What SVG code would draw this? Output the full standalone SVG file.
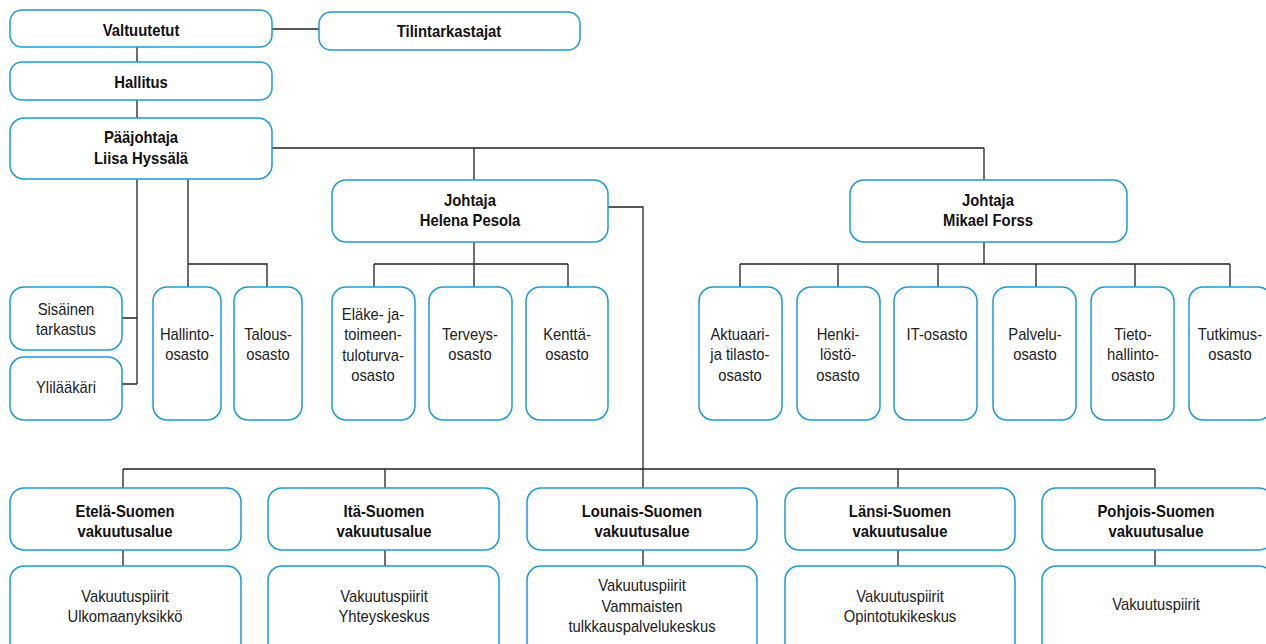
<svg xmlns="http://www.w3.org/2000/svg" width="1266" height="644" viewBox="0 0 1266 644">
<style>
.b{fill:#fff;stroke:#1e9ad6;stroke-width:1.5}
.c{fill:none;stroke:#222;stroke-width:1.3}
text{font-family:"Liberation Sans",Arial,sans-serif;font-size:17px;fill:#222;text-anchor:middle;transform-box:fill-box;transform-origin:center;transform:scaleX(.87)}
text.h{font-weight:bold;font-size:16.5px;fill:#111;transform:scaleX(.9)}
</style>
<rect width="1266" height="644" fill="#fff"/>
<g id="connectors">
<path class="c" d="M272 29H319"/>
<path class="c" d="M137 47V62M137 100V118"/>
<path class="c" d="M272 148H984M474 148V180M984 148V180"/>
<path class="c" d="M137 179V384M122 318H137M122 384H137"/>
<path class="c" d="M188 179V287M188 264H267V287"/>
<path class="c" d="M474 242V264M374 264H568M374 264V287M474 264V287M568 264V287"/>
<path class="c" d="M608 207H643V469M123 469H1155M123 469V488M385 469V488M643 469V488M898 469V488M1155 469V488"/>
<path class="c" d="M984 242V264M740 264H1230M740 264V287M838 264V287M938 264V287M1036 264V287M1135 264V287M1230 264V287"/>
<path class="c" d="M123 550V566M385 550V566M643 550V566M898 550V566M1155 550V566"/>
</g>
<g id="valtuutetut"><rect class="b" x="10" y="10" width="262" height="37" rx="12"/><text class="h" x="141" y="36">Valtuutetut</text></g>
<g id="tilintarkastajat"><rect class="b" x="319" y="12" width="261" height="38" rx="12"/><text class="h" x="449" y="37">Tilintarkastajat</text></g>
<g id="hallitus"><rect class="b" x="10" y="62" width="262" height="38" rx="12"/><text class="h" x="141" y="88">Hallitus</text></g>
<g id="paajohtaja"><rect class="b" x="10" y="118" width="262" height="61" rx="14"/><text class="h" x="141" y="143">Pääjohtaja</text><text class="h" x="141" y="164">Liisa Hyssälä</text></g>
<g id="helena"><rect class="b" x="332" y="180" width="276" height="62" rx="14"/><text class="h" x="470" y="206">Johtaja</text><text class="h" x="470" y="226">Helena Pesola</text></g>
<g id="mikael"><rect class="b" x="850" y="180" width="277" height="62" rx="14"/><text class="h" x="988" y="206">Johtaja</text><text class="h" x="988" y="226">Mikael Forss</text></g>
<g id="sisainen"><rect class="b" x="10" y="287" width="112" height="63" rx="14"/><text x="66" y="315">Sisäinen</text><text x="66" y="335">tarkastus</text></g>
<g id="ylilaakari"><rect class="b" x="10" y="357" width="112" height="63" rx="14"/><text x="66" y="393">Ylilääkäri</text></g>
<g id="hallinto"><rect class="b" x="153" y="287" width="68" height="133" rx="14"/><text x="187" y="340">Hallinto-</text><text x="187" y="360">osasto</text></g>
<g id="talous"><rect class="b" x="234" y="287" width="68" height="133" rx="14"/><text x="268" y="340">Talous-</text><text x="268" y="360">osasto</text></g>
<g id="elake"><rect class="b" x="332" y="287" width="83" height="133" rx="14"/><text x="373" y="320">Eläke- ja-</text><text x="373" y="340">toimeen-</text><text x="373" y="361">tuloturva-</text><text x="373" y="381">osasto</text></g>
<g id="terveys"><rect class="b" x="429" y="287" width="83" height="133" rx="14"/><text x="470" y="340">Terveys-</text><text x="470" y="360">osasto</text></g>
<g id="kentta"><rect class="b" x="526" y="287" width="82" height="133" rx="14"/><text x="567" y="340">Kenttä-</text><text x="567" y="360">osasto</text></g>
<g id="aktuaari"><rect class="b" x="699" y="287" width="83" height="133" rx="14"/><text x="740" y="340">Aktuaari-</text><text x="740" y="360">ja tilasto-</text><text x="740" y="381">osasto</text></g>
<g id="henki"><rect class="b" x="797" y="287" width="83" height="133" rx="14"/><text x="838" y="340">Henki-</text><text x="838" y="360">löstö-</text><text x="838" y="381">osasto</text></g>
<g id="it"><rect class="b" x="894" y="287" width="83" height="133" rx="14"/><text x="937" y="340">IT-osasto</text></g>
<g id="palvelu"><rect class="b" x="993" y="287" width="83" height="133" rx="14"/><text x="1035" y="340">Palvelu-</text><text x="1035" y="360">osasto</text></g>
<g id="tieto"><rect class="b" x="1091" y="287" width="83" height="133" rx="14"/><text x="1133" y="340">Tieto-</text><text x="1133" y="360">hallinto-</text><text x="1133" y="381">osasto</text></g>
<g id="tutkimus"><rect class="b" x="1189" y="287" width="83" height="133" rx="14"/><text x="1230" y="340">Tutkimus-</text><text x="1230" y="360">osasto</text></g>
<g id="etela"><rect class="b" x="10" y="488" width="231" height="62" rx="14"/><text class="h" x="125" y="517">Etelä-Suomen</text><text class="h" x="125" y="537">vakuutusalue</text></g>
<g id="ita"><rect class="b" x="268" y="488" width="231" height="62" rx="14"/><text class="h" x="384" y="517">Itä-Suomen</text><text class="h" x="384" y="537">vakuutusalue</text></g>
<g id="lounais"><rect class="b" x="527" y="488" width="230" height="62" rx="14"/><text class="h" x="642" y="517">Lounais-Suomen</text><text class="h" x="642" y="537">vakuutusalue</text></g>
<g id="lansi"><rect class="b" x="785" y="488" width="230" height="62" rx="14"/><text class="h" x="900" y="517">Länsi-Suomen</text><text class="h" x="900" y="537">vakuutusalue</text></g>
<g id="pohjois"><rect class="b" x="1042" y="488" width="231" height="62" rx="14"/><text class="h" x="1156" y="517">Pohjois-Suomen</text><text class="h" x="1156" y="537">vakuutusalue</text></g>
<g id="etela-yks"><rect class="b" x="10" y="566" width="231" height="100" rx="14"/><text x="125" y="602">Vakuutuspiirit</text><text x="125" y="622">Ulkomaanyksikkö</text></g>
<g id="ita-yks"><rect class="b" x="268" y="566" width="231" height="100" rx="14"/><text x="384" y="602">Vakuutuspiirit</text><text x="384" y="622">Yhteyskeskus</text></g>
<g id="lounais-yks"><rect class="b" x="527" y="566" width="230" height="100" rx="14"/><text x="642" y="591">Vakuutuspiirit</text><text x="642" y="612">Vammaisten</text><text x="642" y="632">tulkkauspalvelukeskus</text></g>
<g id="lansi-yks"><rect class="b" x="785" y="566" width="230" height="100" rx="14"/><text x="900" y="602">Vakuutuspiirit</text><text x="900" y="622">Opintotukikeskus</text></g>
<g id="pohjois-yks"><rect class="b" x="1042" y="566" width="231" height="100" rx="14"/><text x="1156" y="610">Vakuutuspiirit</text></g>
</svg>
